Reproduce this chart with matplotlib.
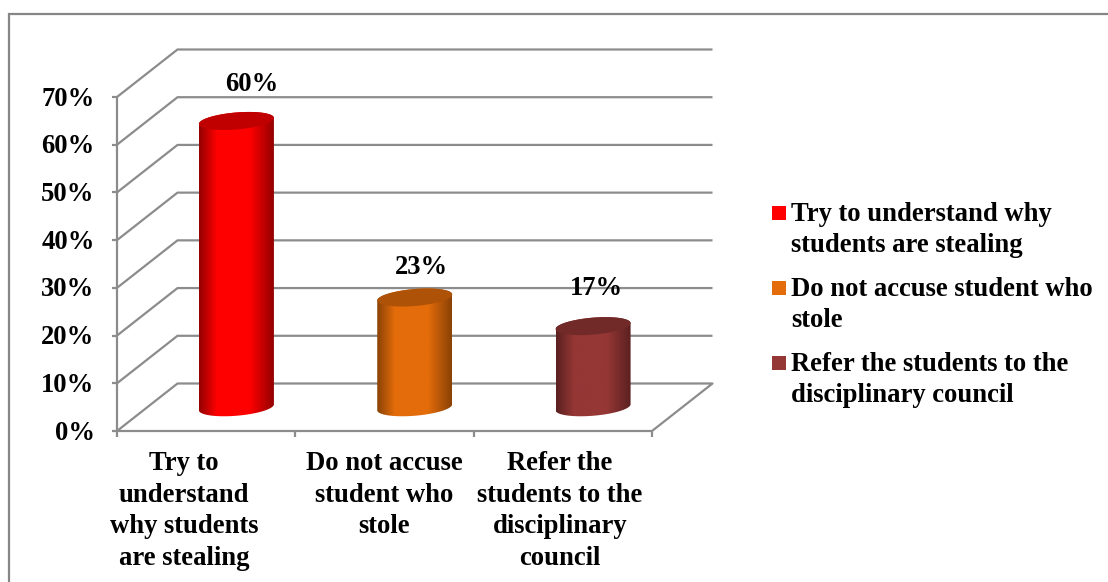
import numpy as np
import matplotlib
matplotlib.use("Agg")
import matplotlib.pyplot as plt
from matplotlib.patches import Polygon, Rectangle
from matplotlib.colors import LinearSegmentedColormap

categories = ["Try to\nunderstand\nwhy students\nare stealing",
              "Do not accuse\nstudent who\nstole",
              "Refer the\nstudents to the\ndisciplinary\ncouncil"]
legend_labels = ["Try to understand why\nstudents are stealing",
                 "Do not accuse student who\nstole",
                 "Refer the students to the\ndisciplinary council"]
values = [60, 23, 17]
y_ticks = [0, 10, 20, 30, 40, 50, 60, 70]
base_colors = ["#FF0000", "#E46C0A", "#953735"]
edge_colors = ["#930000", "#8A4206", "#5A2020"]
top_colors = ["#C00000", "#AE5208", "#722A29"]
label_offsets_px = [(15, 24), (7, 18), (3, 25)]   # data-label nudges (layout only)
cat_offsets_px = [-22, 0, -3]                     # category-label nudges (layout only)

W, H = 1108, 582
FS = 19.2
LS = 1.34
plt.rcParams['font.family'] = ['Liberation Serif', 'DejaVu Serif']
fig = plt.figure(figsize=(W / 100, H / 100), dpi=100, facecolor="white")

bg = fig.add_axes([0, 0, 1, 1], zorder=0)
bg.set_xlim(0, W); bg.set_ylim(H, 0); bg.axis("off")
bg.plot([8.5, 8.5, W], [H, 14, 14], color="#868686", lw=1.6, solid_joinstyle="miter")

L, R, T, B = 117, 652, 97, 431
ax = fig.add_axes([L / W, 1 - B / H, (R - L) / W, (B - T) / H], zorder=1)
ax.patch.set_alpha(0)
for s in ax.spines.values():
    s.set_visible(False)
ax.set_xticks([]); ax.set_yticks([])

px_x = 3 / (R - L)
px_y = 70 / (B - T)
dx, dy = 60.5 * px_x, 47.5 * px_y
grid = "#8C8C8C"
kw = dict(color=grid, lw=1.6, clip_on=False, solid_capstyle="butt")

for v in y_ticks:
    if v:
        ax.plot([0, dx, 3 + dx], [v, v + dy, v + dy], zorder=1, **kw)
    ax.plot([-5 * px_x, 0], [v, v], zorder=2, **kw)
    ax.text(-22.5 * px_x, v - 2 * px_y, f"{v}%", ha="right", va="center", fontsize=FS,
            fontweight="bold", color="black")
ax.plot([0, dx, 3 + dx, 3, 0], [0, dy, dy, 0, 0], zorder=1, **kw)
ax.plot([0, 0], [0, 70], zorder=2, **kw)
for i in range(4):
    ax.plot([i, i], [0, -6 * px_y], zorder=2, **kw)

for i, c in enumerate(categories):
    ax.text(i + 0.5 + cat_offsets_px[i] * px_x, -20.5 * px_y, c, ha="center", va="top", fontsize=FS,
            fontweight="bold", linespacing=LS, color="black")

half_w = 37.5 * px_x
major = 8.5 * px_y     # vertical half-extent of the ellipse
tilt = 3.0 * px_y      # right side sits higher than the left
t = np.linspace(0, 2 * np.pi, 200)


def ell_y(a):
    return major * np.sin(a) + tilt * np.cos(a)


for i, (v, base, edge, top) in enumerate(zip(values, base_colors, edge_colors, top_colors)):
    cx = i + 0.5 + dx / 2
    y0 = dy / 2
    y1 = v + dy / 2
    low = np.linspace(np.pi, 2 * np.pi, 100)
    up = np.linspace(0, np.pi, 100)
    verts = np.vstack([np.c_[cx + half_w * np.cos(low), y0 + ell_y(low)],
                       np.c_[cx + half_w * np.cos(up), y1 + ell_y(up)]])
    body = Polygon(verts, closed=True, fc="none", ec="none", clip_on=False)
    ax.add_patch(body)
    cmap = LinearSegmentedColormap.from_list(
        "c", [(0, edge), (0.24, base), (0.68, base), (1, edge)])
    im = ax.imshow(np.linspace(0, 1, 256)[None, :], cmap=cmap, aspect="auto",
                   extent=[cx - half_w, cx + half_w, y0 - 2 * major, y1 + 2 * major],
                   zorder=3)
    im.set_clip_path(body)
    ax.add_patch(Polygon(np.c_[cx + half_w * np.cos(t), y1 + ell_y(t)], closed=True,
                         fc=top, ec="none", clip_on=False, zorder=4))
    ox, oy = label_offsets_px[i]
    ax.text(i + 0.5 + ox * px_x + dx / 2, y1 + oy * px_y, f"{v}%",
            ha="center", va="bottom", fontsize=FS, fontweight="bold", color="black", zorder=5)
ax.set_xlim(0, 3); ax.set_ylim(0, 70)

legend_y = [212, 287, 362]
for lab, col, y in zip(legend_labels, base_colors, legend_y):
    bg.add_patch(Rectangle((772, y - 6), 14, 14, fc=col, ec="none"))
    fig.text(791 / W, 1 - (y - 10) / H, lab, ha="left", va="top", fontsize=FS,
             fontweight="bold", linespacing=LS, color="black", zorder=5)

fig.savefig("out.png", dpi=100)
